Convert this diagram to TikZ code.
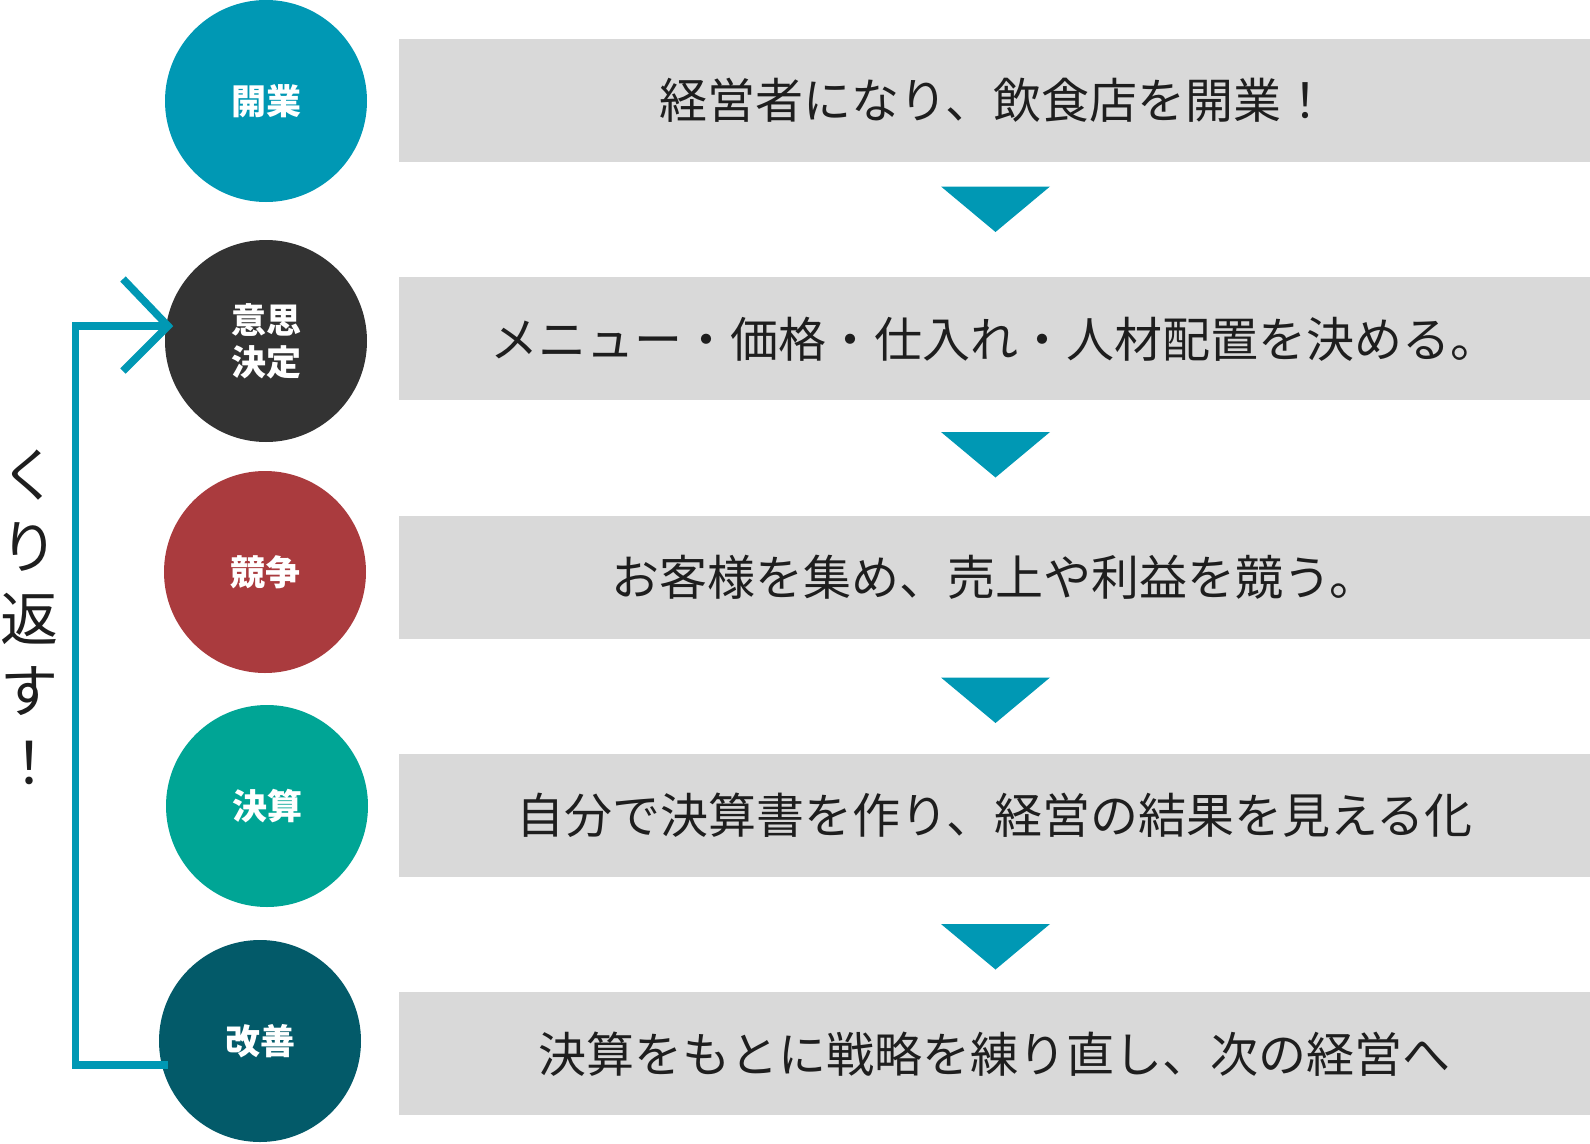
\documentclass[tikz,border=0pt]{standalone}
\usepackage{fontspec}
\newfontfamily\jp{Noto Sans CJK JP}
\definecolor{tealA}{RGB}{0,152,180}
\definecolor{cIshi}{RGB}{51,51,51}
\definecolor{cKyoso}{RGB}{170,59,62}
\definecolor{cKessan}{RGB}{0,165,149}
\definecolor{cKaizen}{RGB}{3,90,105}
\definecolor{boxgray}{RGB}{217,217,217}
\definecolor{textdark}{RGB}{30,30,30}
\begin{document}
\begin{tikzpicture}[x=1pt,y=-1pt,
  stepcircle/.style={circle, inner sep=0pt, minimum size=202pt, text=white,
    font=\jp\bfseries\fontsize{35}{42}\selectfont, align=center},
  textbox/.style={rectangle, fill=boxgray, minimum width=1191pt, minimum height=123pt,
    inner sep=0pt, text=textdark, font=\jp\fontsize{48}{56}\selectfont},
  downtri/.style={fill=tealA},
  loopline/.style={draw=tealA, line width=7.5pt, line join=miter}
]
\useasboundingbox (0,0) rectangle (1590,1143);

% text boxes
\node[textbox] (b1) at (994.5,100.5) {経営者になり、飲食店を開業！};
\node[textbox] (b2) at (994.5,338.8) {メニュー・価格・仕入れ・人材配置を決める。};
\node[textbox] (b3) at (994.5,577.1) {お客様を集め、売上や利益を競う。};
\node[textbox] (b4) at (994.5,815.4) {自分で決算書を作り、経営の結果を見える化};
\node[textbox] (b5) at (994.5,1053.7) {決算をもとに戦略を練り直し、次の経営へ};

% down triangles
\fill[downtri] (941,186.5) -- (1050,186.5) -- (995.5,232) -- cycle;
\fill[downtri] (941,432) -- (1050,432) -- (995.5,477.5) -- cycle;
\fill[downtri] (941,677.5) -- (1050,677.5) -- (995.5,723) -- cycle;
\fill[downtri] (941,924) -- (1050,924) -- (995.5,969.5) -- cycle;

% circles
\node[stepcircle, fill=tealA] (c1) at (266,101) {開業};
\node[stepcircle, fill=cIshi] (c2) at (266,341) {意思\\決定};
\node[stepcircle, fill=cKyoso] (c3) at (265,572) {競争};
\node[stepcircle, fill=cKessan] (c4) at (267,806) {決算};
\node[stepcircle, fill=cKaizen] (c5) at (260,1041) {改善};

% loop connector
\coordinate (loopA) at (168,1065);
\coordinate (loopB) at (75.5,1065);
\coordinate (loopC) at (75.5,326);
\coordinate (loopTip) at (168,326);
\coordinate (chevU) at (123,279);
\coordinate (chevD) at (123,371);
\draw[loopline] (loopA) -- (loopB) -- (loopC) -- (loopTip);
\draw[loopline] (chevU) -- (loopTip) -- (chevD);

% vertical label
\node[font=\jp\fontsize{58}{72}\selectfont, align=center, text=textdark, inner sep=0pt]
  (kuri) at (29,617) {く\\り\\返\\す\\！};
\end{tikzpicture}
\end{document}
